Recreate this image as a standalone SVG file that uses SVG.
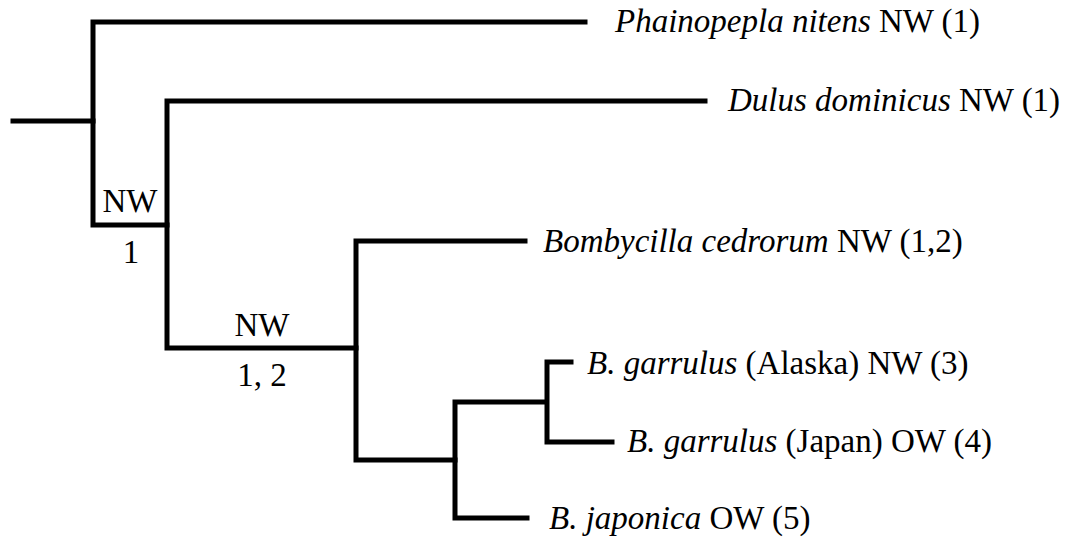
<svg xmlns="http://www.w3.org/2000/svg" width="1077" height="540" viewBox="0 0 1077 540">
<style>
.br{fill:none;stroke:#000;stroke-width:5;stroke-linecap:square;stroke-linejoin:miter}
.t{font-family:'Liberation Serif','Times New Roman',Times,serif;font-size:33px;fill:#000}
.i{font-style:italic}
.c{text-anchor:middle}
</style>
<rect width="1077" height="540" fill="#fff"/>
<g id="connectors">
<path class="br" d="M13,121 H93"/>
<path class="br" d="M585,22 H93 V225 H167"/>
<path class="br" d="M705,101 H167 V348 H356"/>
<path class="br" d="M525,241 H356 V460 H455"/>
<path class="br" d="M546,402 H455 V518 H527"/>
<path class="br" d="M571,362 H547 V442 H612"/>
</g>
<g class="t" font-family="Liberation Serif, serif">
<g id="n-phainopepla"><text x="615" y="32"><tspan class="i">Phainopepla nitens</tspan> NW (1)</text></g>
<g id="n-dulus"><text x="728" y="111"><tspan class="i">Dulus dominicus</tspan> NW (1)</text></g>
<g id="n-cedrorum"><text x="543" y="252"><tspan class="i">Bombycilla cedrorum</tspan> NW (1,2)</text></g>
<g id="n-alaska"><text x="587" y="374"><tspan class="i">B. garrulus</tspan> (Alaska) NW (3)</text></g>
<g id="n-japan"><text x="627" y="452"><tspan class="i">B. garrulus</tspan> (Japan) OW (4)</text></g>
<g id="n-japonica"><text x="549" y="529"><tspan class="i">B. japonica</tspan> OW (5)</text></g>
<g id="node-a"><text class="c" x="130" y="212">NW</text><text class="c" x="131" y="263">1</text></g>
<g id="node-b"><text class="c" x="262" y="336">NW</text><text class="c" x="262" y="386">1, 2</text></g>
</g>
</svg>
